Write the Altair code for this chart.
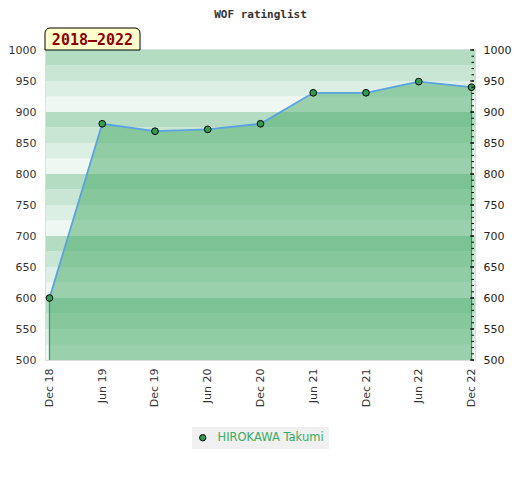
import altair as alt
import pandas as pd

# ---- data ----
periods = ["Dec 18", "Jun 19", "Dec 19", "Jun 20", "Dec 20", "Jun 21", "Dec 21", "Jun 22", "Dec 22"]
ratings = [600, 881, 869, 872, 881, 931, 931, 949, 940]
player = "HIROKAWA Takumi"
band_low = list(range(500, 1000, 25))
band_shades = ["#eff7f2", "#dcefe4", "#c9e6d4", "#b4dcc3"]
minor_ticks = list(range(500, 1001, 10))
major_ticks = list(range(500, 1001, 50))
period_label = "2018\u20132022"
chart_title = "WOF ratinglist"

W, H = 429, 310

df = pd.DataFrame({"period": periods, "rating": ratings, "player": player})
edges = df.iloc[[0, len(df) - 1]]
bands = pd.DataFrame({
    "lo": band_low,
    "hi": [b + 25 for b in band_low],
    "shade": [band_shades[(b % 100) // 25] for b in band_low],
})
minor_df = pd.DataFrame({"v": minor_ticks})
major_df = pd.DataFrame({"v": major_ticks})
label_df = pd.DataFrame({"label": [period_label], "title": [chart_title]})

yscale = alt.Scale(domain=[500, 1000], nice=False, zero=False)
xaxis = alt.Axis(title=None, labelAngle=270, labelAlign="right", labelBaseline="middle",
                 labelPadding=8, ticks=False, domain=False, grid=False,
                 labelFont="DejaVu Sans", labelFontSize=11, labelColor="#333333")
X = alt.X("period:O", sort=periods, scale=alt.Scale(type="point", padding=0.066), axis=xaxis)

band_layer = alt.Chart(bands).mark_rect().encode(
    x=alt.value(0), x2=alt.value(W),
    y=alt.Y("lo:Q", scale=yscale,
            axis=alt.Axis(orient="left", title=None, values=major_ticks, format="d", ticks=False,
                          domain=False, grid=False, labelPadding=10, labelFont="DejaVu Sans",
                          labelFontSize=11, labelColor="#333333")),
    y2="hi:Q",
    fill=alt.Fill("shade:N", scale=None),
)

area = alt.Chart(df).mark_area(color="#3da861", opacity=0.48).encode(
    x=X, y=alt.Y("rating:Q", scale=yscale, axis=None), y2=alt.datum(500))

edge_rules = alt.Chart(edges).mark_rule(color="#2e9a50", strokeWidth=1.2).encode(
    x=X, y=alt.Y("rating:Q", scale=yscale, axis=None), y2=alt.datum(500))

line = alt.Chart(df).mark_line(color="#5aa2e0", strokeWidth=1.8).encode(
    x=X, y=alt.Y("rating:Q", scale=yscale, axis=None))

points = alt.Chart(df).mark_circle(size=45, opacity=1, stroke="black", strokeWidth=1).encode(
    x=X, y=alt.Y("rating:Q", scale=yscale, axis=None),
    color=alt.Color("player:N", scale=alt.Scale(range=["#2f9e55"]),
                    legend=alt.Legend(title=None, orient="none", legendX=146, legendY=377,
                                      fillColor="#f0f0f0", padding=5, labelColor="#3aaa5e",
                                      labelFont="DejaVu Sans", labelFontSize=11.5, labelOffset=9,
                                      symbolType="circle", symbolSize=40,
                                      symbolStrokeColor="black", symbolStrokeWidth=1)))

minor_layer = alt.Chart(minor_df).mark_rule(color="black", strokeWidth=1).encode(
    x=alt.value(W - 3.5), x2=alt.value(W - 1),
    y=alt.Y("v:Q", scale=yscale, axis=None))

major_layer = alt.Chart(major_df).mark_rule(color="black", strokeWidth=1).encode(
    x=alt.value(W - 5), x2=alt.value(W - 1),
    y=alt.Y("v:Q", scale=yscale,
            axis=alt.Axis(orient="right", title=None, values=major_ticks, format="d", ticks=False,
                          domain=False, grid=False, labelPadding=8, labelFont="DejaVu Sans",
                          labelFontSize=11, labelColor="#222222")))

label_box = alt.Chart(label_df).mark_rect(fill="#ffffcc", stroke="black", strokeWidth=1,
                                          cornerRadiusTopLeft=5, cornerRadiusTopRight=5).encode(
    x=alt.value(-1), x2=alt.value(94), y=alt.value(-22), y2=alt.value(0))
label_text = alt.Chart(label_df).mark_text(font="DejaVu Sans Mono", fontSize=15, color="#8b0000",
                                           fontWeight="bold", align="center",
                                           baseline="alphabetic").encode(
    x=alt.value(46.5), y=alt.value(-5), text="label:N")
title_text = alt.Chart(label_df).mark_text(font="DejaVu Sans Mono", fontSize=11, fontWeight="bold",
                                           color="#333333", align="center",
                                           baseline="middle").encode(
    x=alt.value(W / 2), y=alt.value(-35.5), text="title:N")

chart = alt.layer(
    band_layer, area, edge_rules, line, points, minor_layer, major_layer,
    label_box, label_text, title_text
).resolve_scale(y="independent", color="independent").properties(
    width=W, height=H,
    autosize=alt.AutoSizeParams(type="none"),
    padding={"left": 38, "top": 42, "right": 37, "bottom": 112},
).configure_view(stroke="#dddddd", strokeWidth=2)

chart.save("out.html", embed_options={"renderer": "svg", "actions": False})
